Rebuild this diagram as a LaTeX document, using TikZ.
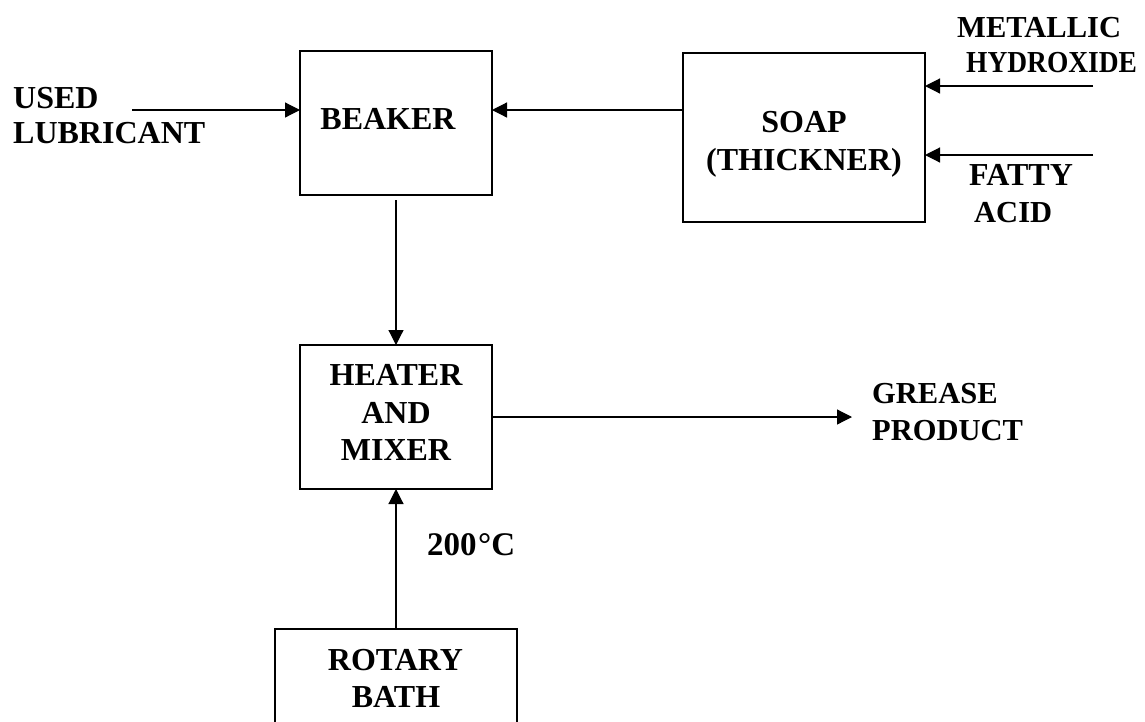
\documentclass[tikz,border=0pt]{standalone}
\usepackage{fontspec}
\usepackage{graphicx}
\setmainfont{Liberation Serif}
\usetikzlibrary{arrows.meta}
\begin{document}
\begin{tikzpicture}[x=1pt,y=-1pt,
  box/.style={draw, line width=1.4pt, inner sep=0pt, outer sep=0pt},
  txt/.style={inner sep=0pt, font=\bfseries\fontsize{#1}{#1}\selectfont},
  txt/.default=32,
  arr/.style={line width=1.2pt, -{Triangle[length=15pt,width=15pt]}}]
\useasboundingbox (0,0) rectangle (1145,721);
\fill[white] (0,0) rectangle (1145,721);
% boxes
\node[box, minimum width=192pt, minimum height=144pt] (beaker) at (396,123) {};
\node[box, minimum width=242pt, minimum height=169pt] (soap) at (804,137.5) {};
\node[box, minimum width=192pt, minimum height=144pt] (heater) at (396,417) {};
\node[box, minimum width=242pt, minimum height=152pt] (rotary) at (396,705) {};
% box texts
\node[txt, anchor=base] (beakerT) at (388,129) {BEAKER};
\node[txt, anchor=base] (soapT1) at (804,132) {SOAP};
\node[txt, anchor=base] (soapT2) at (804,170) {(THICKNER)};
\node[txt, anchor=base] (heaterT1) at (396,385) {HEATER};
\node[txt, anchor=base] (heaterT2) at (396,423) {AND};
\node[txt, anchor=base] (heaterT3) at (396,460) {MIXER};
\node[txt, anchor=base] (rotaryT1) at (395.5,670) {ROTARY};
\node[txt, anchor=base] (rotaryT2) at (396,707) {BATH};
% outside labels
\node[txt, anchor=base west] (used1) at (13,108) {USED};
\node[txt, anchor=base west] (used2) at (13,143) {LUBRICANT};
\node[txt=30.5, anchor=base west] (mh1) at (957,37) {METALLIC};
\node[txt=30.5, anchor=base west] (mh2) at (966,72) {\scalebox{0.9}[1]{HYDROXIDE}};
\node[txt=32, anchor=base west] (fa1) at (969,185) {FATTY};
\node[txt=30.5, anchor=base west] (fa2) at (974,222) {ACID};
\node[txt=30.5, anchor=base west] (gp1) at (872,403) {GREASE};
\node[txt=30.5, anchor=base west] (gp2) at (872,440) {PRODUCT};
\node[txt=33, anchor=base west] (temp) at (427,555) {200\kern1.5pt°C};
% free ends
\coordinate (usedin) at (132,110);
\coordinate (mhin) at (1093,86);
\coordinate (fain) at (1093,155);
\coordinate (gpout) at (852,417);
% connectors
\draw[arr] (usedin) -- (beaker.west |- usedin);
\draw[arr] (soap.west |- usedin) -- (beaker.east |- usedin);
\draw[arr] (mhin) -- (soap.east |- mhin);
\draw[arr] (fain) -- (soap.east |- fain);
\draw[arr] ([yshift=-5pt]beaker.south) -- (heater.north);
\draw[arr] (heater.east) -- (gpout);
\draw[arr] (rotary.north) -- (heater.south);
\end{tikzpicture}
\end{document}
